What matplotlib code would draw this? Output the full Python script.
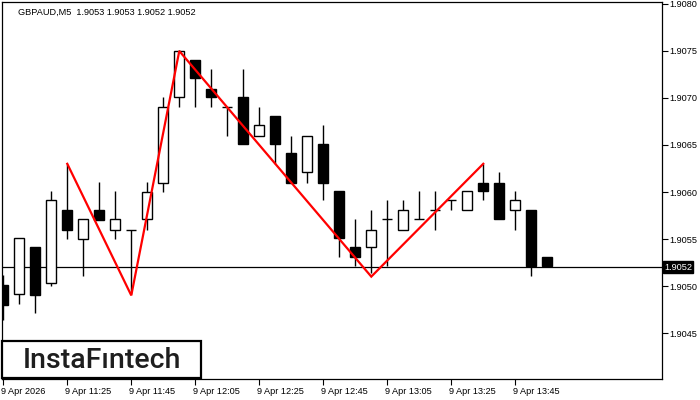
import matplotlib
matplotlib.use("Agg")
import matplotlib.pyplot as plt
from matplotlib.patches import Rectangle
import matplotlib.transforms as mtransforms

# ---------------- data ----------------
opens = [1.90501, 1.90491, 1.90542, 1.90503, 1.90581, 1.90550, 1.90581, 1.90560, 1.90560, 1.90571,
         1.90610, 1.90701, 1.90740, 1.90710, 1.90690, 1.90701, 1.90660, 1.90681, 1.90641, 1.90621,
         1.90651, 1.90601, 1.90541, 1.90541, 1.90571, 1.90560, 1.90571, 1.90581, 1.90591, 1.90581,
         1.90610, 1.90610, 1.90581, 1.90581, 1.90531]
highs = [1.90512, 1.90551, 1.90542, 1.90601, 1.90630, 1.90571, 1.90611, 1.90601, 1.90560, 1.90611,
         1.90701, 1.90751, 1.90740, 1.90731, 1.90690, 1.90731, 1.90690, 1.90681, 1.90660, 1.90660,
         1.90671, 1.90601, 1.90571, 1.90581, 1.90591, 1.90591, 1.90601, 1.90601, 1.90591, 1.90601,
         1.90630, 1.90621, 1.90601, 1.90581, 1.90531]
lows = [1.90464, 1.90481, 1.90471, 1.90500, 1.90550, 1.90511, 1.90570, 1.90550, 1.90492, 1.90560,
        1.90600, 1.90690, 1.90690, 1.90690, 1.90660, 1.90651, 1.90660, 1.90630, 1.90610, 1.90610,
        1.90591, 1.90531, 1.90521, 1.90514, 1.90521, 1.90560, 1.90571, 1.90560, 1.90581, 1.90581,
        1.90591, 1.90571, 1.90560, 1.90511, 1.90521]
closes = [1.90480, 1.90551, 1.90490, 1.90591, 1.90560, 1.90571, 1.90570, 1.90571, 1.90560, 1.90600,
          1.90690, 1.90750, 1.90721, 1.90701, 1.90690, 1.90651, 1.90671, 1.90651, 1.90610, 1.90660,
          1.90610, 1.90551, 1.90531, 1.90560, 1.90571, 1.90581, 1.90571, 1.90581, 1.90591, 1.90601,
          1.90601, 1.90571, 1.90591, 1.90521, 1.90521]

zigzag_idx = [4, 8, 11, 23, 30]
zigzag_price = [1.9063, 1.9049, 1.9075, 1.9051, 1.9063]

current_price = 1.9052
x_tick_idx = [0, 4, 8, 12, 16, 20, 24, 28, 32]
x_tick_labels = ["9 Apr 2026", "9 Apr 11:25", "9 Apr 11:45", "9 Apr 12:05", "9 Apr 12:25",
                 "9 Apr 12:45", "9 Apr 13:05", "9 Apr 13:25", "9 Apr 13:45"]
y_ticks = [1.9045, 1.9050, 1.9055, 1.9060, 1.9065, 1.9070, 1.9075, 1.9080]
title = "GBPAUD,M5  1.9053 1.9053 1.9052 1.9052"
logo = "InstaF\u0131ntech"

# ---------------- figure ----------------
W, H = 700, 400
fig = plt.figure(figsize=(W / 100, H / 100), dpi=100)
fig.patch.set_facecolor("white")
ax = fig.add_axes([2 / W, 21 / H, 660 / W, 377 / H])
ax.set_facecolor("white")
ax.set_xlim(-0.08, 41.17)
ax.set_ylim(1.904011, 1.908021)

tick_font = dict(family=["Liberation Sans", "DejaVu Sans"], size=6.6)

# current price line
ax.axhline(current_price, color="black", lw=0.9, zorder=1)

# candles
body_w = 0.64
for i, (o, h, l, c) in enumerate(zip(opens, highs, lows, closes)):
    ax.vlines(i, l, h, color="black", lw=1.0, zorder=2)
    bottom = min(o, c)
    height = abs(c - o)
    fc = "black" if c < o else "white"
    ax.add_patch(Rectangle((i - body_w / 2, bottom), body_w, height,
                           facecolor=fc, edgecolor="black", lw=1.0, zorder=3))

# zigzag pattern
ax.plot(zigzag_idx, zigzag_price, color="#ff0000", lw=1.6, zorder=4,
        solid_joinstyle="miter")

# spines
for s in ax.spines.values():
    s.set_color("black")
    s.set_linewidth(0.9)

# y axis on right
ax.yaxis.tick_right()
ax.set_yticks(y_ticks)
ax.set_yticklabels([f"{v:.4f}" for v in y_ticks], fontdict=tick_font)
ax.tick_params(axis="y", direction="out", length=4, width=0.8, pad=1.5, colors="black")

# x axis
ax.set_xticks(x_tick_idx)
ax.set_xticklabels(x_tick_labels, fontdict=tick_font)
ax.tick_params(axis="x", direction="out", length=4, width=0.8, pad=1.5, colors="black")
offset = mtransforms.ScaledTranslation(-2 / 100, 0, fig.dpi_scale_trans)
for lab in ax.get_xticklabels():
    lab.set_ha("left")
    lab.set_transform(lab.get_transform() + offset)

# current price box on the right
trans = mtransforms.blended_transform_factory(ax.transAxes, ax.transData)
ax.text(1.0 + 2 / 660, current_price, f"{current_price:.4f}", transform=trans,
        ha="left", va="center", color="white", fontdict=tick_font, zorder=6,
        bbox=dict(facecolor="black", edgecolor="black", pad=1.0), clip_on=False)

# title
fig.text(18 / W, 1 - 12 / H, title, ha="left", va="center", color="black", fontdict=tick_font)

# logo box
fig.add_artist(Rectangle((2 / W, 22 / H), 199 / W, 37 / H, transform=fig.transFigure,
                         facecolor="white", edgecolor="black", lw=1.6, zorder=10))
fig.text(102 / W, 1 - 360 / H, logo, ha="center", va="center", color="#1e1e1e",
         family=["Roboto", "DejaVu Sans"], fontweight="medium", fontsize=20.5, zorder=11)

fig.savefig("out.png", dpi=100, facecolor="white")
